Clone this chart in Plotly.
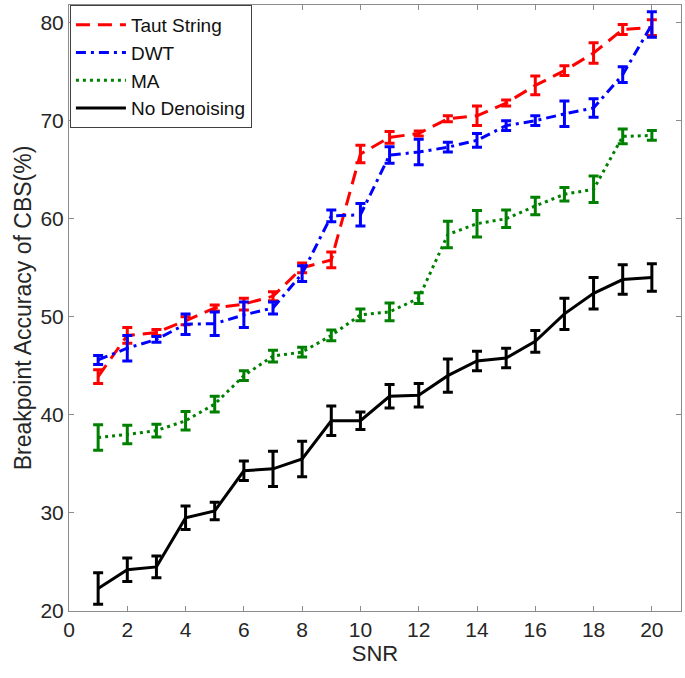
import plotly.graph_objects as go

snr = list(range(1, 21))

taut_mean = [43.9, 48.1, 48.4, 49.6, 50.9, 51.3, 52.1, 55.0, 55.8, 66.6,
             68.3, 68.7, 70.2, 70.5, 71.8, 73.6, 75.1, 76.9, 79.3, 79.5]
taut_err = [0.7, 0.8, 0.3, 0.4, 0.3, 0.6, 0.45, 0.5, 0.8, 0.9,
            0.6, 0.25, 0.3, 1.0, 0.3, 0.95, 0.5, 1.05, 0.5, 0.8]

dwt_mean = [45.6, 46.8, 47.7, 49.25, 49.3, 50.2, 50.9, 54.4, 60.3, 60.4,
            66.5, 66.8, 67.3, 68.0, 69.5, 70.0, 70.7, 71.3, 74.7, 79.8]
dwt_err = [0.45, 1.3, 0.3, 1.05, 1.2, 1.3, 0.6, 0.8, 0.6, 1.15,
           0.85, 1.3, 0.5, 0.7, 0.5, 0.5, 1.3, 0.95, 0.8, 1.3]

ma_mean = [37.7, 38.0, 38.4, 39.4, 41.1, 44.0, 46.0, 46.4, 48.1, 50.2,
           50.5, 51.9, 58.4, 59.5, 60.0, 61.3, 62.5, 63.0, 68.4, 68.5]
ma_err = [1.3, 0.95, 0.65, 0.95, 0.8, 0.5, 0.6, 0.5, 0.55, 0.6,
          0.9, 0.55, 1.35, 1.35, 0.9, 0.9, 0.7, 1.35, 0.75, 0.5]

none_mean = [22.3, 24.2, 24.5, 29.5, 30.2, 34.3, 34.5, 35.5, 39.4, 39.4,
             41.9, 42.0, 44.0, 45.5, 45.8, 47.5, 50.3, 52.4, 53.8, 54.0]
none_err = [1.6, 1.2, 1.1, 1.2, 0.9, 1.0, 1.8, 1.8, 1.5, 0.9,
            1.2, 1.2, 1.7, 1.0, 1.0, 1.1, 1.6, 1.6, 1.5, 1.4]

x_ticks = list(range(0, 21, 2))
y_ticks = list(range(20, 81, 10))

series = [
    ("Taut String", taut_mean, taut_err, "#ff0000", "14px,8px"),
    ("DWT", dwt_mean, dwt_err, "#0000ff", "10px,5px,3px,5px"),
    ("MA", ma_mean, ma_err, "#008000", "3px,4px"),
    ("No Denoising", none_mean, none_err, "#000000", "solid"),
]

fig = go.Figure()
for name, m, e, c, d in series:
    fig.add_trace(go.Scatter(
        x=snr, y=m, name=name, mode="lines",
        line=dict(color=c, width=3, dash=d),
        error_y=dict(type="data", array=e, visible=True,
                     color=c, thickness=3, width=5),
    ))

font_family = "Liberation Sans, Arial, Helvetica, sans-serif"
axis_common = dict(
    showline=True, mirror="ticks", linecolor="#8c8c8c", linewidth=1,
    ticks="inside", ticklen=5, tickcolor="#8c8c8c", tickwidth=1,
    showgrid=False, zeroline=False, automargin=False,
    tickfont=dict(family=font_family, size=21, color="#262626"),
)

fig.update_layout(
    width=685, height=678,
    margin=dict(l=69, r=4, t=5, b=67),
    paper_bgcolor="white", plot_bgcolor="white",
    font=dict(family=font_family, color="#262626"),
    xaxis=dict(range=[0, 21], tickvals=x_ticks,
               title=dict(text="SNR", font=dict(size=22), standoff=2),
               **axis_common),
    yaxis=dict(range=[20, 81.8], tickvals=y_ticks,
               title=dict(text="Breakpoint Accuracy of CBS(%)",
                          font=dict(size=23), standoff=2),
               **axis_common),
    legend=dict(x=0.0015, y=1, xanchor="left", yanchor="top",
                bgcolor="white", bordercolor="#404040", borderwidth=1,
                font=dict(size=19, color="#111111"),
                itemwidth=50, tracegroupgap=0),
    showlegend=True,
)

fig.write_html("out.html",
               config={"displayModeBar": False},
               post_script="document.body.style.margin='0';")
